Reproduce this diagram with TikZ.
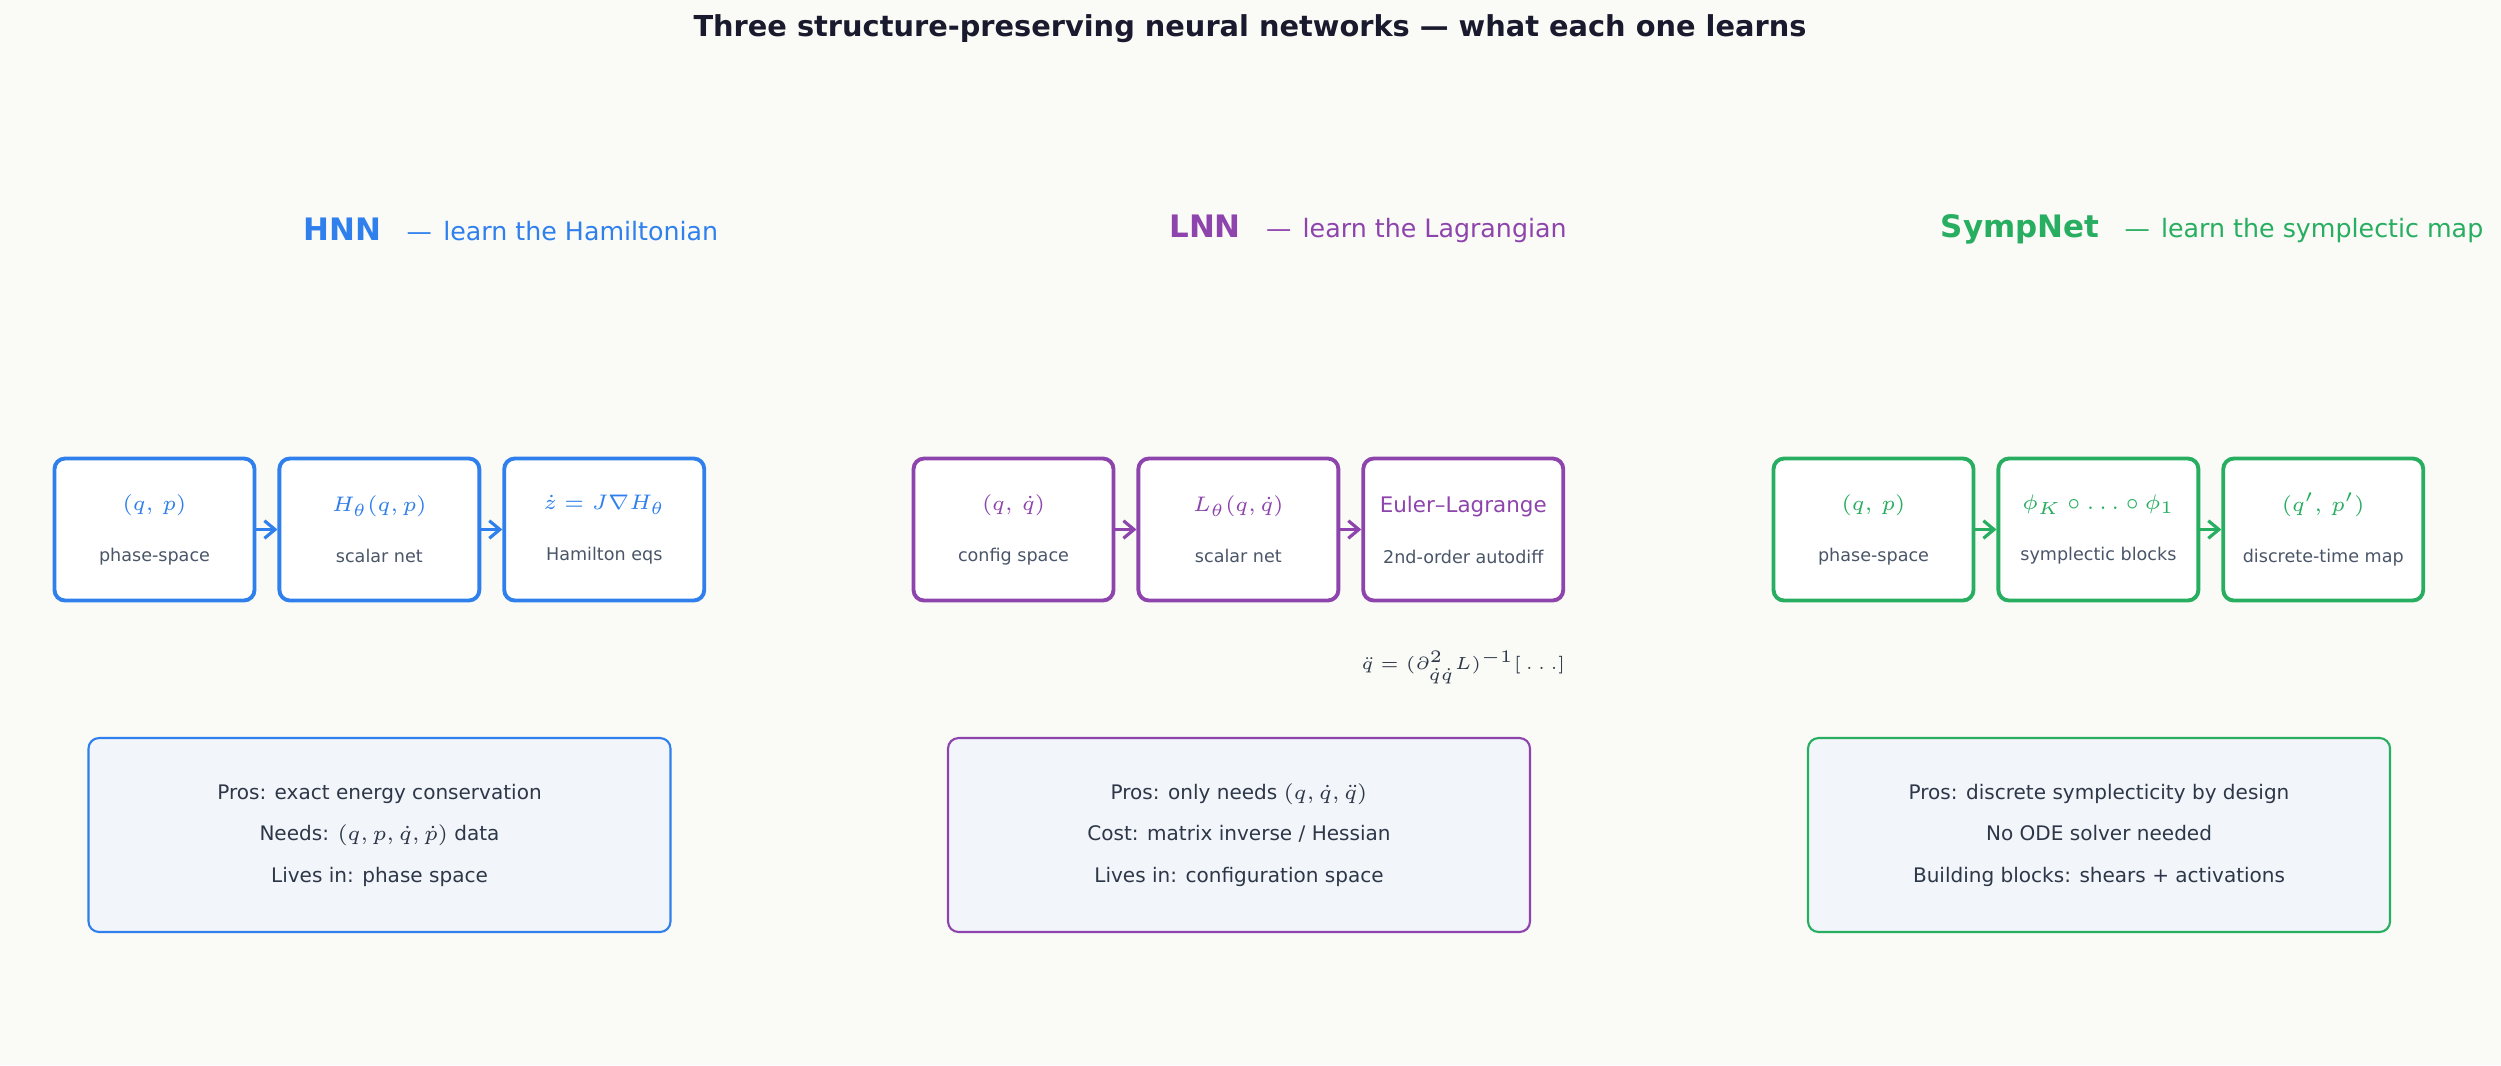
\documentclass[tikz,border=0pt]{standalone}
\usepackage{fontspec}
\setmainfont{DejaVu Sans}
\usepackage{tikz}
\usetikzlibrary{arrows.meta,positioning,calc}
\definecolor{hnnblue}{HTML}{2F80ED}
\definecolor{lnnpurple}{HTML}{8E44AD}
\definecolor{sympgreen}{HTML}{27AE60}
\definecolor{bgpaper}{HTML}{FAFAF6}
\definecolor{prosfill}{HTML}{F2F5FA}
\definecolor{subgray}{HTML}{4A5568}
\definecolor{darktext}{HTML}{2D3748}
\definecolor{titleink}{HTML}{1A1A2E}
\tikzset{
  stage/.style={draw=#1,line width=1.1pt,rounded corners=3pt,fill=white,
    minimum width=2.0cm,minimum height=1.42cm,inner sep=0pt,align=center},
  pros/.style={draw=#1,line width=0.6pt,rounded corners=3pt,fill=prosfill,
    minimum width=5.82cm,minimum height=1.94cm,align=center,
    font=\fontsize{5.7}{11.8}\selectfont,text=darktext},
  flow/.style={-{Straight Barb[length=3pt,width=5pt]},line width=0.9pt,draw=#1},
  head/.style={font=\fontsize{7.2}{8}\selectfont,text=#1},
}
\newcommand{\stagetext}[3]{%
  \fontsize{6.1}{7}\selectfont\textcolor{#1}{#2}\\[2.5pt]%
  \fontsize{5}{6}\selectfont\textcolor{subgray}{#3}}
\begin{document}
\begin{tikzpicture}
    \fill[bgpaper] (0,0) rectangle (25.01,-10.65);
    \useasboundingbox (0,0) rectangle (25.01,-10.65);
    % Title
    \node[font=\bfseries\fontsize{8.2}{9}\selectfont,text=titleink] (title) at (12.5,-0.29)
        {Three structure-preserving neural networks — what each one learns};
    % Headers
    \node[head=hnnblue] (hhead) at (5.11,-2.29)
        {{\bfseries\fontsize{8.8}{9}\selectfont HNN}\quad—\;\,learn the Hamiltonian};
    \node[head=lnnpurple] (lhead) at (13.68,-2.29)
        {{\bfseries\fontsize{8.8}{9}\selectfont LNN}\quad—\;\,learn the Lagrangian};
    \node[head=sympgreen] (shead) at (22.12,-2.29)
        {{\bfseries\fontsize{8.8}{9}\selectfont SympNet}\quad—\;\,learn the symplectic map};
    % HNN row
    \node[stage=hnnblue] (h1) at (1.545,-5.295) {\stagetext{hnnblue}{$(q,\,p)$}{phase-space}};
    \node[stage=hnnblue,right=0.21cm of h1] (h2) {\stagetext{hnnblue}{$H_\theta(q,p)$}{scalar net}};
    \node[stage=hnnblue,right=0.21cm of h2] (h3) {\stagetext{hnnblue}{$\dot z = J\nabla H_\theta$}{Hamilton eqs}};
    \draw[flow=hnnblue] (h1) -- (h2);
    \draw[flow=hnnblue] (h2) -- (h3);
    % LNN row
    \node[stage=lnnpurple] (l1) at (10.135,-5.295) {\stagetext{lnnpurple}{$(q,\,\dot q)$}{config space}};
    \node[stage=lnnpurple,right=0.21cm of l1] (l2) {\stagetext{lnnpurple}{$L_\theta(q,\dot q)$}{scalar net}};
    \node[stage=lnnpurple,right=0.21cm of l2] (l3) {\stagetext{lnnpurple}{Euler–Lagrange}{2nd-order autodiff}};
    \draw[flow=lnnpurple] (l1) -- (l2);
    \draw[flow=lnnpurple] (l2) -- (l3);
    \node[font=\fontsize{5.5}{7}\selectfont,text=darktext,below=0.36cm of l3] (lform)
        {$\ddot q = (\partial^2_{\dot q\dot q}L)^{-1}[\,\dots]$};
    % SympNet row
    \node[stage=sympgreen] (s1) at (18.735,-5.295) {\stagetext{sympgreen}{$(q,\,p)$}{phase-space}};
    \node[stage=sympgreen,right=0.21cm of s1] (s2) {\stagetext{sympgreen}{$\phi_K\circ\dots\circ\phi_1$}{symplectic blocks}};
    \node[stage=sympgreen,right=0.21cm of s2] (s3) {\stagetext{sympgreen}{$(q',\,p')$}{discrete-time map}};
    \draw[flow=sympgreen] (s1) -- (s2);
    \draw[flow=sympgreen] (s2) -- (s3);
    % Pros boxes
    \node[pros=hnnblue] (hpros) at (3.795,-8.35)
        {Pros: exact energy conservation\\Needs: $(q,p,\dot q,\dot p)$ data\\Lives in: phase space};
    \node[pros=lnnpurple] (lpros) at (12.39,-8.35)
        {Pros: only needs $(q,\dot q,\ddot q)$\\Cost: matrix inverse / Hessian\\Lives in: configuration space};
    \node[pros=sympgreen] (spros) at (20.99,-8.35)
        {Pros: discrete symplecticity by design\\No ODE solver needed\\Building blocks: shears + activations};
\end{tikzpicture}
\end{document}
